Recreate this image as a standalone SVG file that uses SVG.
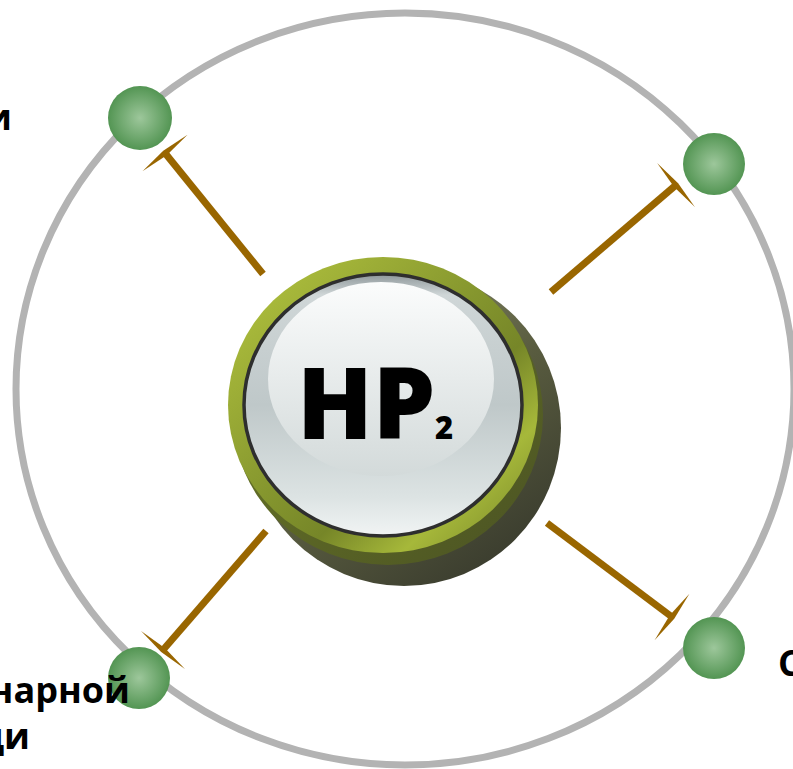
<svg xmlns="http://www.w3.org/2000/svg" width="793" height="769" viewBox="0 0 793 769">
  <style>
    .conn { stroke: #996600; stroke-width: 7; fill: none; marker-end: url(#tbar); }
    .dot { fill: url(#greenGrad); }
    .lbl { font-family: "Open Sans", "Noto Sans", "DejaVu Sans", sans-serif; font-weight: bold; font-size: 36px; fill: #000; }
  </style>
  <defs>
    <radialGradient id="greenGrad" cx="0.5" cy="0.5" r="0.5">
      <stop offset="0" stop-color="#9dc79b"/>
      <stop offset="1" stop-color="#539553"/>
    </radialGradient>
    <linearGradient id="shadowGrad" x1="0.2" y1="0.1" x2="0.8" y2="0.95">
      <stop offset="0" stop-color="#8a8d6c"/>
      <stop offset="0.5" stop-color="#5a5d40"/>
      <stop offset="1" stop-color="#3a3c2e"/>
    </linearGradient>
    <linearGradient id="ringDeep" x1="0" y1="0" x2="1" y2="1">
      <stop offset="0" stop-color="#6f7d28"/>
      <stop offset="1" stop-color="#4a5223"/>
    </linearGradient>
    <linearGradient id="ringGrad" x1="0.1" y1="0.1" x2="0.9" y2="0.9">
      <stop offset="0" stop-color="#acbd3c"/>
      <stop offset="0.45" stop-color="#85962e"/>
      <stop offset="0.65" stop-color="#768628"/>
      <stop offset="0.85" stop-color="#a6b83a"/>
      <stop offset="1" stop-color="#8a9a30"/>
    </linearGradient>
    <linearGradient id="faceGrad" x1="0" y1="0" x2="0" y2="1">
      <stop offset="0" stop-color="#8e979a"/>
      <stop offset="0.08" stop-color="#cfd6d7"/>
      <stop offset="0.5" stop-color="#bfc8c9"/>
      <stop offset="0.85" stop-color="#dce3e3"/>
      <stop offset="1" stop-color="#f1f4f4"/>
    </linearGradient>
    <linearGradient id="hiGrad" x1="0" y1="0" x2="0" y2="1">
      <stop offset="0" stop-color="#fbfcfc"/>
      <stop offset="1" stop-color="#d3dada"/>
    </linearGradient>
    <marker id="tbar" markerUnits="userSpaceOnUse" markerWidth="10" markerHeight="64" viewBox="-5 -32 10 64" refX="0" refY="0" orient="auto" overflow="visible">
      <path d="M0,-29 L2.8,0 L0,29 L-2.8,0 Z" fill="#996600"/>
    </marker>
  </defs>

  <ellipse id="orbit" cx="405" cy="389" rx="389" ry="376" fill="none" stroke="#b3b3b3" stroke-width="7"/>

  <g id="connectors">
    <line class="conn" x1="263" y1="274" x2="165" y2="153"/>
    <line class="conn" x1="551" y1="292" x2="676" y2="185"/>
    <line class="conn" x1="266" y1="531" x2="163" y2="650"/>
    <line class="conn" x1="547" y1="523" x2="672" y2="617"/>
  </g>

  <g id="node-tl"><circle class="dot" cx="140" cy="118" r="32"/></g>
  <g id="node-tr"><circle class="dot" cx="714" cy="164" r="31"/></g>
  <g id="node-bl"><circle class="dot" cx="139" cy="678" r="31"/></g>
  <g id="node-br"><circle class="dot" cx="714" cy="648" r="31"/></g>

  <g id="node-center">
    <ellipse cx="404" cy="428" rx="157" ry="158" fill="url(#shadowGrad)"/>
    <ellipse cx="388" cy="415" rx="155" ry="150" fill="url(#ringDeep)"/>
    <ellipse cx="383" cy="405" rx="155" ry="148" fill="url(#ringGrad)"/>
    <ellipse cx="383" cy="405" rx="139" ry="131" fill="url(#faceGrad)" stroke="#2e2e2e" stroke-width="3.5"/>
    <ellipse cx="381" cy="379" rx="113" ry="97" fill="url(#hiGrad)"/>
    <text x="297" y="439" font-family="'Open Sans', 'Noto Sans', sans-serif" font-weight="800" font-size="99" fill="#000">HP</text>
    <text x="435" y="439" font-family="'Open Sans', 'Noto Sans', sans-serif" font-weight="800" font-size="31" fill="#000">2</text>
  </g>

  <g id="label-tl"><text class="lbl" x="12" y="130" text-anchor="end">и</text></g>
  <g id="label-bl">
    <text class="lbl" x="130" y="703" text-anchor="end">нарной</text>
    <text class="lbl" x="30" y="749" text-anchor="end">ди</text>
  </g>
  <g id="label-br"><text class="lbl" x="778" y="676">С</text></g>
</svg>
